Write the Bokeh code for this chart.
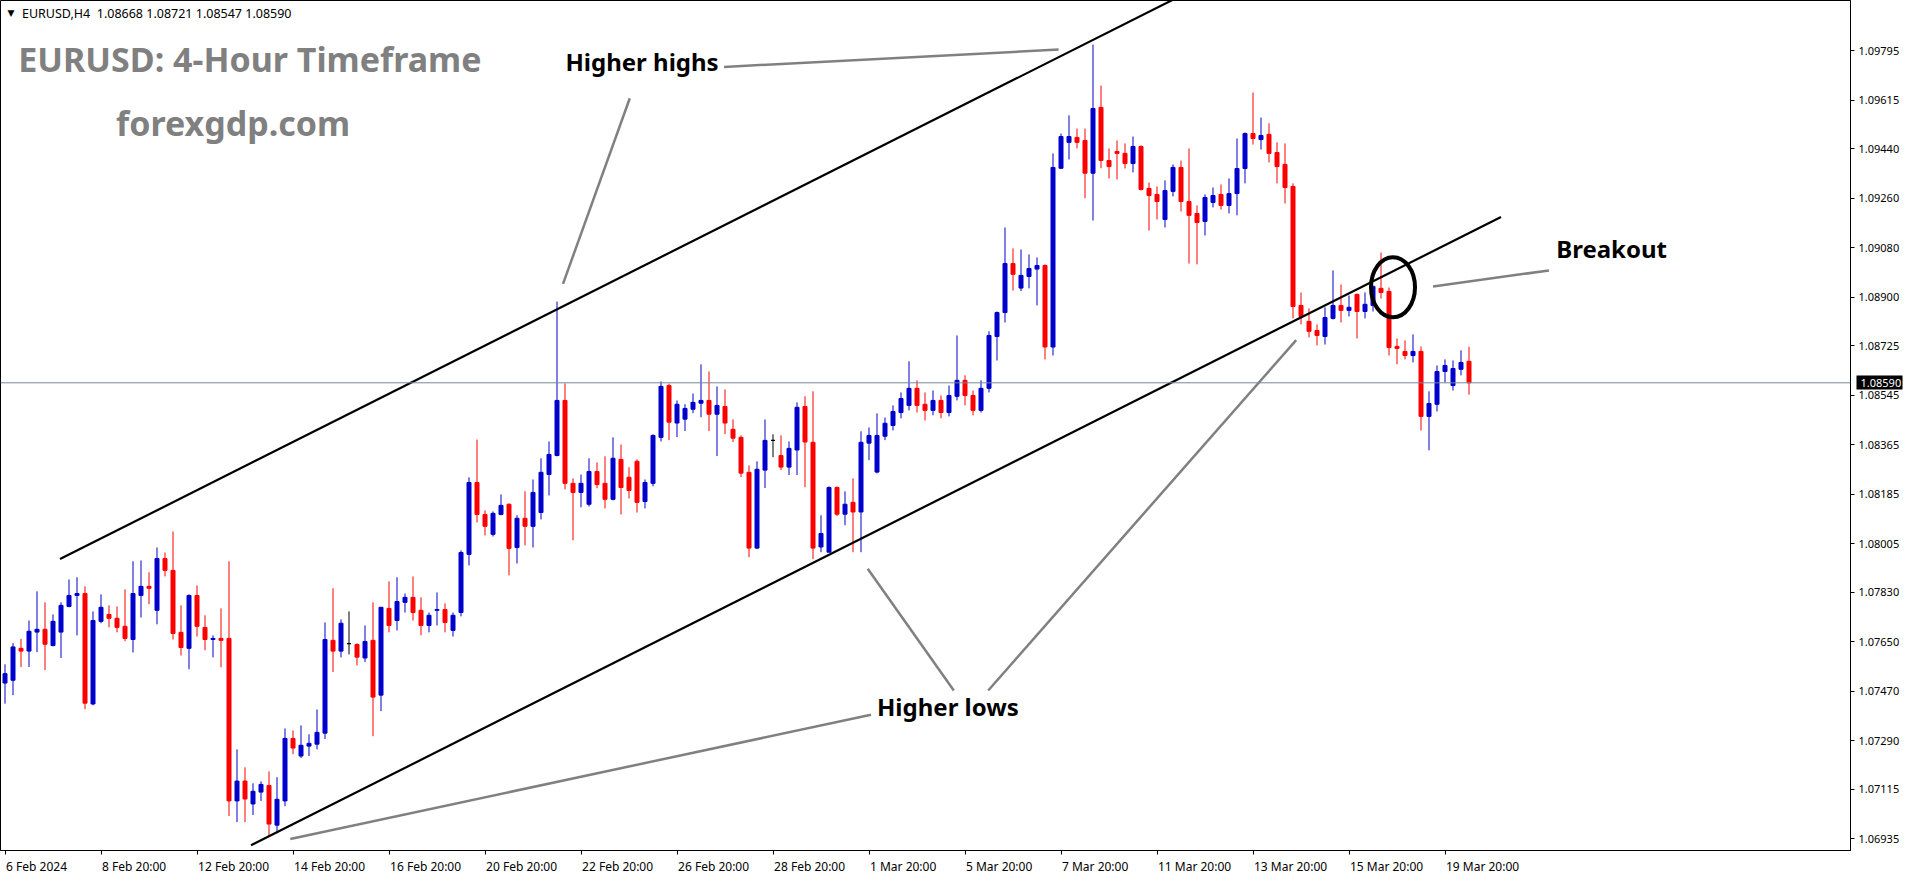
from bokeh.plotting import figure
from bokeh.models import (Range1d, FixedTicker, PrintfTickFormatter, CustomJSTickFormatter,
                          Label, Span, ColumnDataSource, LinearAxis)
from bokeh.embed import file_html
from bokeh.resources import INLINE

# ---------------- data (EURUSD, H4) ----------------
open_ = [
    1.07500, 1.07510, 1.07626, 1.07616, 1.07685, 1.07695, 1.07636, 1.07685, 1.07778, 1.07818,
    1.07825, 1.07424, 1.07724, 1.07749, 1.07735, 1.07706, 1.07658, 1.07818, 1.07851, 1.07764,
    1.07952, 1.07909, 1.07684, 1.07626, 1.07818, 1.07702, 1.07658, 1.07662, 1.07662, 1.07072,
    1.07144, 1.07061, 1.07104, 1.07128, 1.06984, 1.07072, 1.07299, 1.07235, 1.07271, 1.07278,
    1.07318, 1.07655, 1.07616, 1.07643, 1.07640, 1.07591, 1.07655, 1.07456, 1.07771, 1.07727,
    1.07793, 1.07811, 1.07764, 1.07709, 1.07764, 1.07767, 1.07691, 1.07756, 1.07967, 1.08228,
    1.08112, 1.08040, 1.08112, 1.08149, 1.07992, 1.08098, 1.08069, 1.08119, 1.08257, 1.08326,
    1.08526, 1.08225, 1.08192, 1.08149, 1.08268, 1.08225, 1.08167, 1.08312, 1.08247, 1.08305,
    1.08159, 1.08225, 1.08392, 1.08580, 1.08444, 1.08458, 1.08494, 1.08516, 1.08526, 1.08476,
    1.08504, 1.08421, 1.08392, 1.08265, 1.07990, 1.08273, 1.08381, 1.08326, 1.08284, 1.08346,
    1.08504, 1.08374, 1.07994, 1.07975, 1.08210, 1.08113, 1.08156, 1.08121, 1.08371, 1.08266,
    1.08396, 1.08435, 1.08482, 1.08508, 1.08570, 1.08512, 1.08490, 1.08526, 1.08482, 1.08541,
    1.08599, 1.08544, 1.08490, 1.08570, 1.08758, 1.08845, 1.09023, 1.08934, 1.08976, 1.09003,
    1.09016, 1.08720, 1.09369, 1.09463, 1.09481, 1.09470, 1.09351, 1.09590, 1.09397, 1.09430,
    1.09423, 1.09386, 1.09448, 1.09296, 1.09274, 1.09183, 1.09285, 1.09372, 1.09248, 1.09205,
    1.09176, 1.09245, 1.09274, 1.09234, 1.09277, 1.09368, 1.09495, 1.09473, 1.09492, 1.09426,
    1.09383, 1.09303, 1.08871, 1.08813, 1.08780, 1.08758, 1.08824, 1.08871, 1.08853, 1.08911,
    1.08849, 1.08871, 1.08933, 1.08922, 1.08722, 1.08704, 1.08689, 1.08704, 1.08468, 1.08512,
    1.08631, 1.08580, 1.08639, 1.08668,
]
high = [
    1.07568, 1.07645, 1.07660, 1.07727, 1.07833, 1.07793, 1.07749, 1.07793, 1.07876, 1.07884,
    1.07851, 1.07760, 1.07822, 1.07782, 1.07778, 1.07840, 1.07942, 1.07945, 1.07902, 1.07992,
    1.07974, 1.08050, 1.07782, 1.07822, 1.07854, 1.07746, 1.07673, 1.07771, 1.07942, 1.07259,
    1.07194, 1.07136, 1.07143, 1.07179, 1.07158, 1.07335, 1.07328, 1.07346, 1.07314, 1.07404,
    1.07720, 1.07844, 1.07731, 1.07760, 1.07644, 1.07709, 1.07793, 1.07775, 1.07869, 1.07884,
    1.07825, 1.07887, 1.07811, 1.07756, 1.07829, 1.07789, 1.07756, 1.07982, 1.08247, 1.08384,
    1.08127, 1.08123, 1.08185, 1.08152, 1.08109, 1.08196, 1.08239, 1.08316, 1.08377, 1.08885,
    1.08588, 1.08243, 1.08257, 1.08316, 1.08301, 1.08323, 1.08392, 1.08366, 1.08283, 1.08312,
    1.08239, 1.08403, 1.08595, 1.08587, 1.08526, 1.08512, 1.08551, 1.08657, 1.08631, 1.08577,
    1.08566, 1.08457, 1.08399, 1.08290, 1.08305, 1.08457, 1.08403, 1.08399, 1.08377, 1.08519,
    1.08541, 1.08559, 1.08109, 1.08214, 1.08214, 1.08196, 1.08243, 1.08414, 1.08428, 1.08479,
    1.08464, 1.08508, 1.08555, 1.08668, 1.08599, 1.08555, 1.08562, 1.08544, 1.08580, 1.08762,
    1.08617, 1.08562, 1.08599, 1.08777, 1.08849, 1.09154, 1.09078, 1.09074, 1.09056, 1.09045,
    1.09020, 1.09423, 1.09495, 1.09561, 1.09513, 1.09513, 1.09818, 1.09669, 1.09441, 1.09470,
    1.09459, 1.09484, 1.09452, 1.09317, 1.09303, 1.09325, 1.09383, 1.09397, 1.09441, 1.09234,
    1.09274, 1.09299, 1.09310, 1.09332, 1.09477, 1.09499, 1.09644, 1.09553, 1.09532, 1.09463,
    1.09459, 1.09314, 1.08918, 1.08860, 1.08802, 1.08864, 1.08998, 1.08947, 1.08907, 1.08914,
    1.08918, 1.08943, 1.09063, 1.08936, 1.08751, 1.08744, 1.08766, 1.08722, 1.08559, 1.08653,
    1.08675, 1.08671, 1.08708, 1.08721,
]
low = [
    1.07425, 1.07456, 1.07558, 1.07558, 1.07612, 1.07547, 1.07633, 1.07591, 1.07775, 1.07673,
    1.07405, 1.07419, 1.07717, 1.07702, 1.07684, 1.07652, 1.07611, 1.07738, 1.07786, 1.07713,
    1.07887, 1.07658, 1.07600, 1.07550, 1.07669, 1.07619, 1.07593, 1.07557, 1.07017, 1.06995,
    1.06995, 1.07021, 1.07072, 1.06941, 1.06955, 1.07053, 1.07242, 1.07228, 1.07235, 1.07259,
    1.07297, 1.07540, 1.07593, 1.07604, 1.07564, 1.07576, 1.07307, 1.07398, 1.07684, 1.07691,
    1.07756, 1.07727, 1.07673, 1.07684, 1.07709, 1.07684, 1.07669, 1.07742, 1.07927, 1.08083,
    1.08036, 1.08032, 1.08109, 1.07891, 1.07934, 1.08000, 1.07992, 1.08094, 1.08181, 1.08323,
    1.08203, 1.08018, 1.08138, 1.08141, 1.08207, 1.08134, 1.08163, 1.08112, 1.08170, 1.08119,
    1.08134, 1.08214, 1.08377, 1.08382, 1.08393, 1.08415, 1.08480, 1.08465, 1.08415, 1.08324,
    1.08404, 1.08375, 1.08248, 1.07957, 1.07986, 1.08208, 1.08320, 1.08273, 1.08255, 1.08255,
    1.08211, 1.07950, 1.07975, 1.07974, 1.08106, 1.08073, 1.07975, 1.07975, 1.08309, 1.08261,
    1.08382, 1.08417, 1.08461, 1.08490, 1.08482, 1.08453, 1.08472, 1.08461, 1.08468, 1.08526,
    1.08508, 1.08472, 1.08482, 1.08555, 1.08671, 1.08809, 1.08925, 1.08923, 1.08933, 1.08871,
    1.08675, 1.08689, 1.09366, 1.09401, 1.09441, 1.09260, 1.09179, 1.09369, 1.09332, 1.09328,
    1.09368, 1.09354, 1.09288, 1.09143, 1.09183, 1.09154, 1.09267, 1.09212, 1.09023, 1.09020,
    1.09125, 1.09227, 1.09219, 1.09205, 1.09198, 1.09314, 1.09455, 1.09437, 1.09390, 1.09314,
    1.09241, 1.08824, 1.08802, 1.08755, 1.08726, 1.08729, 1.08820, 1.08809, 1.08831, 1.08751,
    1.08824, 1.08849, 1.08896, 1.08689, 1.08657, 1.08675, 1.08664, 1.08417, 1.08345, 1.08486,
    1.08591, 1.08562, 1.08617, 1.08547,
]
close_ = [
    1.07534, 1.07631, 1.07616, 1.07688, 1.07695, 1.07641, 1.07724, 1.07782, 1.07818, 1.07825,
    1.07427, 1.07727, 1.07775, 1.07735, 1.07702, 1.07662, 1.07825, 1.07851, 1.07844, 1.07952,
    1.07909, 1.07680, 1.07629, 1.07818, 1.07706, 1.07658, 1.07662, 1.07655, 1.07072, 1.07144,
    1.07079, 1.07107, 1.07132, 1.06988, 1.07078, 1.07299, 1.07264, 1.07274, 1.07281, 1.07321,
    1.07658, 1.07616, 1.07717, 1.07643, 1.07594, 1.07651, 1.07449, 1.07775, 1.07709, 1.07796,
    1.07811, 1.07756, 1.07709, 1.07746, 1.07767, 1.07720, 1.07746, 1.07974, 1.08228, 1.08112,
    1.08069, 1.08116, 1.08145, 1.07989, 1.08098, 1.08069, 1.08192, 1.08265, 1.08330, 1.08526,
    1.08225, 1.08192, 1.08225, 1.08268, 1.08221, 1.08167, 1.08316, 1.08210, 1.08199, 1.08156,
    1.08228, 1.08399, 1.08577, 1.08447, 1.08512, 1.08497, 1.08519, 1.08526, 1.08476, 1.08508,
    1.08444, 1.08389, 1.08262, 1.07990, 1.08276, 1.08381, 1.08381, 1.08284, 1.08352, 1.08501,
    1.08375, 1.07990, 1.08043, 1.08210, 1.08113, 1.08149, 1.08121, 1.08374, 1.08399, 1.08399,
    1.08443, 1.08486, 1.08533, 1.08570, 1.08508, 1.08490, 1.08526, 1.08482, 1.08544, 1.08599,
    1.08544, 1.08490, 1.08570, 1.08762, 1.08845, 1.09023, 1.08984, 1.08980, 1.09005, 1.09016,
    1.08720, 1.09372, 1.09484, 1.09484, 1.09463, 1.09351, 1.09586, 1.09397, 1.09375, 1.09423,
    1.09386, 1.09448, 1.09292, 1.09270, 1.09248, 1.09288, 1.09372, 1.09248, 1.09198, 1.09172,
    1.09263, 1.09270, 1.09234, 1.09277, 1.09368, 1.09495, 1.09477, 1.09488, 1.09423, 1.09375,
    1.09299, 1.08867, 1.08831, 1.08777, 1.08762, 1.08827, 1.08871, 1.08853, 1.08864, 1.08849,
    1.08875, 1.08940, 1.08918, 1.08718, 1.08715, 1.08689, 1.08704, 1.08468, 1.08515, 1.08631,
    1.08653, 1.08642, 1.08664, 1.08590,
]

date_labels = ["6 Feb 2024", "8 Feb 20:00", "12 Feb 20:00", "14 Feb 20:00", "16 Feb 20:00",
               "20 Feb 20:00", "22 Feb 20:00", "26 Feb 20:00", "28 Feb 20:00", "1 Mar 20:00",
               "5 Mar 20:00", "7 Mar 20:00", "11 Mar 20:00", "13 Mar 20:00", "15 Mar 20:00",
               "19 Mar 20:00"]
date_label_bars = [0, 12, 24, 36, 48, 60, 72, 84, 96, 108, 120, 132, 144, 156, 168, 180]
price_ticks = [1.09795, 1.09615, 1.09440, 1.09260, 1.09080, 1.08900, 1.08725, 1.08545, 1.08365,
               1.08185, 1.08005, 1.07830, 1.07650, 1.07470, 1.07290, 1.07115, 1.06935]
last_price = 1.08590
header_text = "EURUSD,H4\u00a0 1.08668 1.08721 1.08547 1.08590"

# trend channel lines (bar index, price)
upper_channel_x = [6.875, 149.5]
upper_channel_y = [1.07950, 1.10032]
lower_channel_x = [30.75, 187.0]
lower_channel_y = [1.06911, 1.09192]
# grey pointer lines (bar index, price)
pointer_x0 = [89.875, 78.1, 35.66, 107.84, 122.9, 178.5]
pointer_y0 = [1.09737, 1.09623, 1.06934, 1.07915, 1.07473, 1.08940]
pointer_x1 = [131.7, 69.75, 108.25, 118.6, 161.4, 193.0]
pointer_y1 = [1.09800, 1.08949, 1.07385, 1.07473, 1.08745, 1.08998]
breakout_bar, breakout_price = 173.5, 1.08937

# ---------------- figure ----------------
BULL, BEAR, DOJI = "#0000CD", "#FF0000", "#000000"
colors = [BULL if c > o else (BEAR if c < o else DOJI) for o, c in zip(open_, close_)]
src = ColumnDataSource(dict(
    bar=list(range(len(close_))), o=open_, h=high, l=low, c=close_,
    top=[max(a, b) for a, b in zip(open_, close_)],
    bottom=[min(a, b) for a, b in zip(open_, close_)],
    color=colors))

Y_MIN, Y_MAX = 1.06892, 1.09978
X_MIN, X_MAX = -0.5625, 230.6875
PX_PER_BAR = 8
FONT = "Noto Sans"

p = figure(frame_width=1850, frame_height=850,
           x_range=Range1d(X_MIN, X_MAX), y_range=Range1d(Y_MIN, Y_MAX),
           output_backend="svg", toolbar_location=None,
           x_axis_location="below", y_axis_location=None,
           min_border_left=0, min_border_top=0, min_border_bottom=20, min_border_right=0)
p.background_fill_color = "white"
p.border_fill_color = "white"
p.outline_line_color = "black"
p.outline_line_width = 1
p.xgrid.visible = False
p.ygrid.visible = False

# the price scale
price_scale = LinearAxis(
    ticker=FixedTicker(ticks=price_ticks),
    formatter=PrintfTickFormatter(format="%.5f"),
    major_tick_out=4, major_tick_in=0, minor_tick_out=0, minor_tick_in=0,
    major_label_standoff=4, axis_line_color="black", major_tick_line_color="black",
    major_label_text_font=FONT, major_label_text_font_size="11px",
    major_label_text_color="black")
p.add_layout(price_scale, "right")

# current-price marker: a second one-tick axis stacked outside the price scale whose
# inward (thick) minor tick reaches back over the scale as a black box, with its white
# label pulled back inside that box by a negative standoff
BOX_W = 46
price_marker = LinearAxis(
    ticker=FixedTicker(ticks=[last_price], minor_ticks=[last_price]),
    formatter=PrintfTickFormatter(format="%.5f"),
    axis_line_color=None,
    major_tick_line_color=None, major_tick_out=0, major_tick_in=0,
    minor_tick_line_color="black", minor_tick_out=0, minor_tick_in=BOX_W,
    minor_tick_line_width=14,
    major_label_standoff=-(BOX_W - 4), major_label_text_color="white",
    major_label_text_font=FONT, major_label_text_font_size="11px")
p.add_layout(price_marker, "right")

# date axis: MT4 puts each label to the right of its tick, so the label (major tick, hidden)
# sits half a label-width right of the visible (minor) tick mark.
NOTO_W = {" ": 0.26, ":": 0.266, "F": 0.532, "M": 0.907, "a": 0.561, "b": 0.615, "e": 0.564,
          "r": 0.411}
def text_px(s, size):
    return sum(NOTO_W.get(ch, 0.572) for ch in s) * size

DATE_FONT_PX = 12
label_centres = [b + (text_px(t, DATE_FONT_PX) / 2 + 1) / PX_PER_BAR
                 for b, t in zip(date_label_bars, date_labels)]
p.xaxis.ticker = FixedTicker(ticks=label_centres, minor_ticks=date_label_bars)
p.xaxis.formatter = CustomJSTickFormatter(args=dict(labels=date_labels),
                                          code="return labels[index]")
p.xaxis.major_tick_out = 0
p.xaxis.major_tick_in = 0
p.xaxis.major_tick_line_color = None
p.xaxis.minor_tick_out = 4
p.xaxis.minor_tick_in = 0
p.xaxis.minor_tick_line_color = "black"
p.xaxis.axis_line_color = "black"
p.xaxis.major_label_standoff = 3
p.xaxis.major_label_text_font = FONT
p.xaxis.major_label_text_font_size = f"{DATE_FONT_PX}px"
p.xaxis.major_label_text_color = "black"

# candles
p.segment(x0="bar", y0="l", x1="bar", y1="h", source=src, line_color="color", line_width=1)
p.vbar(x="bar", width=0.5, top="top", bottom="bottom", source=src,
       fill_color="color", line_color="color", line_width=1)

# bid line
p.add_layout(Span(location=last_price, dimension="width", line_color="#778899", line_width=1))

# channel lines
p.line(upper_channel_x, upper_channel_y, line_color="black", line_width=2.2)
p.line(lower_channel_x, lower_channel_y, line_color="black", line_width=2.2)

# pointer lines
p.segment(x0=pointer_x0, y0=pointer_y0, x1=pointer_x1, y1=pointer_y1,
          line_color="#808080", line_width=2.5)

# breakout ellipse
p.ellipse(x=[breakout_bar], y=[breakout_price], width=5.5, height=0.00218,
          fill_color=None, line_color="black", line_width=4)

# texts
def add_label(x, y, text, size, color="black", bold=True, baseline="alphabetic", font=FONT, **kw):
    p.add_layout(Label(x=x, y=y, text=text, text_font=font, text_font_size=size,
                       text_color=color, text_font_style="bold" if bold else "normal",
                       text_baseline=baseline, text_align="left", **kw))

add_label(0.3, 1.09931, "\u25BC", "9px", bold=False, baseline="middle", font="DejaVu Sans")
add_label(2.125, 1.09931, header_text, "12.5px", bold=False, baseline="middle")
add_label(1.66, 1.09765, "EURUSD: 4-Hour Timeframe", "34px", color="#808080")
add_label(13.875, 1.09532, "forexgdp.com", "34px", color="#808080")
add_label(70.06, 1.09755, "Higher highs", "24px")
add_label(109.0, 1.07414, "Higher lows", "24px")
add_label(193.9, 1.09079, "Breakout", "24px")

open("out.html", "w").write(file_html(p, INLINE))
